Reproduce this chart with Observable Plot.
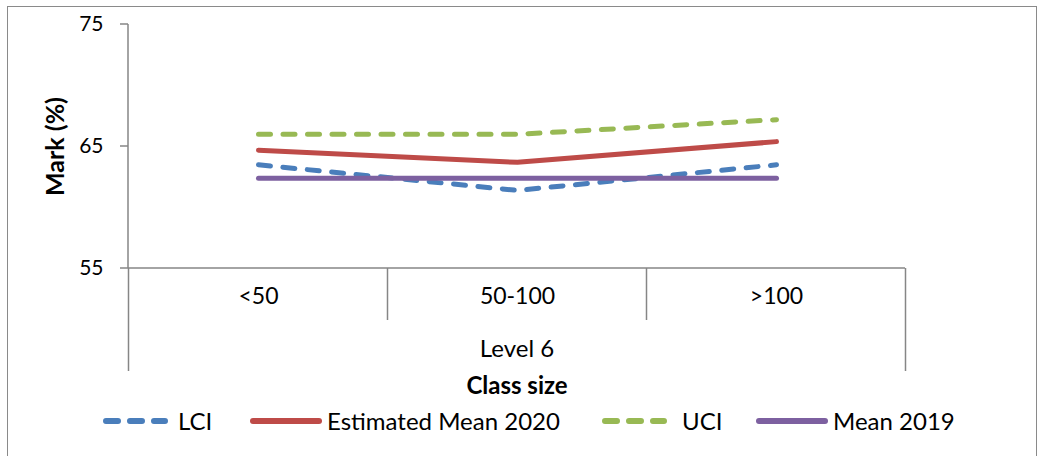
<!DOCTYPE html>
<html>
<head>
<meta charset="utf-8">
<script src="https://cdn.jsdelivr.net/npm/d3@7"></script>
<script src="https://cdn.jsdelivr.net/npm/@observablehq/plot@0.6"></script>
<style>
  html, body { margin: 0; padding: 0; background: #fff; }
  #wrap { position: relative; width: 1041px; height: 456px; overflow: hidden; font-family: Lato, "Open Sans", sans-serif; }
  #border { position: absolute; left: 7px; top: 6px; width: 1030px; height: 452px; border: 1.5px solid #8a8a8a; box-sizing: border-box; pointer-events: none; }
  #chart { position: absolute; left: 0; top: 0; }
  #legend { position: absolute; left: 0; top: 406px; width: 1041px; height: 30px; font-size: 24px; color: #000; white-space: nowrap; }
  #legend svg { position: absolute; top: 9px; display: block; }
  #legend span { position: absolute; top: 0; line-height: 30px; }
</style>
</head>
<body>
<div id="wrap">
  <div id="chart"></div>
  <div id="legend"></div>
  <div id="border"></div>
</div>
<script>
// ---- data ----
const categories = ["<50", "50-100", ">100"];
const groupLabel = "Level 6";
const lci      = [63.5, 61.4, 63.5];
const est2020  = [64.7, 63.7, 65.4];
const uci      = [66.0, 66.0, 67.2];
const mean2019 = [62.4, 62.4, 62.4];
const yTicks = [55, 65, 75];
const yDomain = [55, 75];
const seriesNames = ["LCI", "Estimated Mean 2020", "UCI", "Mean 2019"];

// ---- styles ----
const colors = ["#4A7EBB", "#BE4B48", "#98B954", "#7D60A0"];
const dashed = [true, false, true, false];
const seriesValues = [lci, est2020, uci, mean2019];
const LW = 5;
const DASH = "12,12.5";
const legendSwatchX = [103, 250, 602, 756];
const legendTextX = [178, 327, 682, 833];

const rows = seriesNames.map((name, s) => categories.map((c, i) => ({series: name, cat: c, value: seriesValues[s][i]})));

const axisDecor = (index, scales, values, dims) => {
  const {width, marginLeft, marginRight} = dims;
  const x = scales.x, y = scales.y;
  const left = marginLeft, right = width - marginRight;
  const bottom = y(yDomain[0]), top = y(yDomain[1]);
  const g = d3.create("svg:g").attr("stroke", "#868686").attr("stroke-width", 1.5).attr("fill", "none");
  g.append("line").attr("x1", left).attr("x2", left).attr("y1", top).attr("y2", bottom);
  for (const t of yTicks) g.append("line").attr("x1", left - 8).attr("x2", left).attr("y1", y(t)).attr("y2", y(t));
  g.append("line").attr("x1", left).attr("x2", right).attr("y1", bottom).attr("y2", bottom);
  const pos = categories.map(c => x(c));
  const step = pos[1] - pos[0];
  const bounds = [pos[0] - step / 2, ...pos.slice(1).map((p, i) => (p + pos[i]) / 2), pos[pos.length - 1] + step / 2];
  bounds.forEach((b, i) => {
    const outer = i === 0 || i === bounds.length - 1;
    g.append("line").attr("x1", b).attr("x2", b).attr("y1", bottom).attr("y2", bottom + (outer ? 103 : 52));
  });
  return g.node();
};

const plot = Plot.plot({
  width: 1041,
  height: 456,
  marginLeft: 128,
  marginRight: 136,
  marginTop: 24,
  marginBottom: 188,
  style: {fontFamily: "Lato, 'Open Sans', sans-serif", fontSize: "20px", color: "#000", background: "transparent"},
  x: {type: "point", domain: categories, padding: 0.5, axis: null},
  y: {domain: yDomain, axis: null},
  marks: [
    axisDecor,
    Plot.text(yTicks, {y: d => d, frameAnchor: "left", dx: -25, textAnchor: "end", fontSize: 21, fill: "#000"}),
    Plot.text(categories, {x: d => d, frameAnchor: "bottom", dy: 35, fontSize: 23, fill: "#000"}),
    Plot.text([groupLabel], {frameAnchor: "bottom", dy: 88, fontSize: 24, fill: "#000"}),
    Plot.text(["Class size"], {frameAnchor: "bottom", dy: 125, fontSize: 24, fontWeight: "bold", fill: "#000"}),
    Plot.text(["Mark (%)"], {frameAnchor: "left", dx: -73, rotate: -90, textAnchor: "middle", fontSize: 25, fontWeight: "bold", fill: "#000"}),
    ...rows.map((r, s) => Plot.line(r, {
      x: "cat", y: "value",
      stroke: colors[s], strokeWidth: LW,
      strokeDasharray: dashed[s] ? DASH : null,
      strokeLinecap: "round", strokeLinejoin: "round"
    }))
  ]
});
document.getElementById("chart").appendChild(plot);

// ---- legend ----
const legend = document.getElementById("legend");
const ns = "http://www.w3.org/2000/svg";
seriesNames.forEach((name, s) => {
  const sv = document.createElementNS(ns, "svg");
  sv.setAttribute("width", 72); sv.setAttribute("height", 12);
  sv.style.left = legendSwatchX[s] + "px";
  const ln = document.createElementNS(ns, "line");
  ln.setAttribute("x1", 3); ln.setAttribute("x2", dashed[s] ? 62 : 69);
  ln.setAttribute("y1", 6); ln.setAttribute("y2", 6);
  ln.setAttribute("stroke", colors[s]); ln.setAttribute("stroke-width", LW + 1);
  ln.setAttribute("stroke-linecap", "round");
  if (dashed[s]) ln.setAttribute("stroke-dasharray", "12,12");
  sv.appendChild(ln);
  legend.appendChild(sv);
  const sp = document.createElement("span");
  sp.textContent = name;
  sp.style.left = legendTextX[s] + "px";
  legend.appendChild(sp);
});
</script>
</body>
</html>
